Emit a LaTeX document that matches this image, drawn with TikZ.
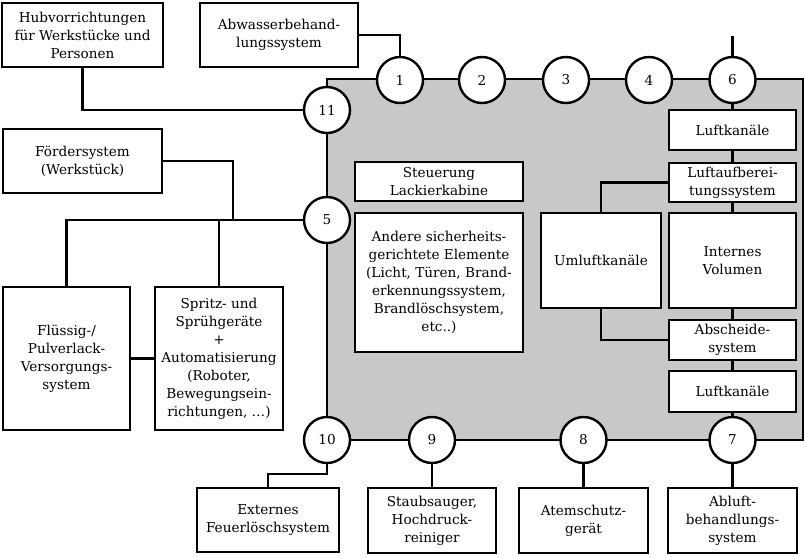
\documentclass[tikz,border=0pt]{standalone}
\usepackage{fontspec}
\setmainfont{DejaVu Serif}
\usetikzlibrary{calc}
\definecolor{cabgray}{RGB}{200,200,200}
\begin{document}
\begin{tikzpicture}[x=1pt,y=-1pt,
  lw/.style={line width=2.4pt},
  box/.style={draw,lw,fill=white,inner sep=0pt,align=center,font=\fontsize{13.6}{18}\selectfont},
  num/.style={draw,lw,fill=white,circle,minimum size=46pt,inner sep=0pt,font=\fontsize{13.6}{16}\selectfont},
  conn/.style={lw}]
\useasboundingbox (0,0) rectangle (805,557);
% cabin area
\node[draw,lw,fill=cabgray,minimum width=476pt,minimum height=361pt,inner sep=0pt] (cabin) at (565,259.5) {};
% circles
\node[num] (c1) at (400,80) {1};
\node[num] (c2) at (482,80) {2};
\node[num] (c3) at (566,80) {3};
\node[num] (c4) at (649,80) {4};
\node[num] (c6) at (732.5,80) {6};
\node[num] (c11) at (327,110) {11};
\node[num] (c5) at (327,220) {5};
\node[num] (c10) at (327,440) {10};
\node[num] (c9) at (432,440) {9};
\node[num] (c8) at (583.5,440) {8};
\node[num] (c7) at (732.5,440) {7};
\coordinate (top6) at (732.5,36);
% outer boxes
\node[box,minimum width=161pt,minimum height=64pt] (hub) at (82.5,35) {Hubvorrichtungen\\für Werkstücke und\\Personen};
\node[box,minimum width=158pt,minimum height=64pt] (abw) at (279,35) {Abwasserbehand-\\lungssystem};
\node[box,minimum width=159pt,minimum height=64pt] (foerd) at (82.5,161) {Fördersystem\\(Werkstück)};
\node[box,minimum width=127pt,minimum height=143pt] (fluess) at (66.5,358.5) {Flüssig-/\\Pulverlack-\\Versorgungs-\\system};
\node[box,minimum width=128pt,minimum height=143pt] (spritz) at (219,358.5) {Spritz- und\\Sprühgeräte\\+\\Automatisierung\\(Roboter,\\Bewegungsein-\\richtungen, …)};
\node[box,minimum width=142pt,minimum height=64pt] (ext) at (268,520) {Externes\\Feuerlöschsystem};
\node[box,minimum width=128pt,minimum height=65pt] (staub) at (432,520.5) {Staubsauger,\\Hochdruck-\\reiniger};
\node[box,minimum width=129pt,minimum height=65pt] (atem) at (583.5,520.5) {Atemschutz-\\gerät};
\node[box,minimum width=129pt,minimum height=65pt] (abluft) at (732.5,520.5) {Abluft-\\behandlungs-\\system};
% inner boxes
\node[box,minimum width=127pt,minimum height=40pt] (luft1) at (732.5,130) {Luftkanäle};
\node[box,minimum width=127pt,minimum height=39pt] (luftauf) at (732.5,182.5) {Luftaufberei-\\tungssystem};
\node[box,minimum width=127pt,minimum height=95pt] (intern) at (732.5,260.5) {Internes\\Volumen};
\node[box,minimum width=127pt,minimum height=40pt] (absch) at (732.5,340) {Abscheide-\\system};
\node[box,minimum width=127pt,minimum height=41pt] (luft2) at (732.5,391.5) {Luftkanäle};
\node[box,minimum width=120pt,minimum height=95pt] (umluft) at (601,260.5) {Umluftkanäle};
\node[box,minimum width=168pt,minimum height=39pt] (steuer) at (439,181.5) {Steuerung\\Lackierkabine};
\node[box,minimum width=168pt,minimum height=139pt] (andere) at (439,282.5) {Andere sicherheits-\\gerichtete Elemente\\(Licht, Türen, Brand-\\erkennungssystem,\\Brandlöschsystem,\\etc..)};
% connectors
\coordinate (j1) at (233,220);
\coordinate (j10) at ($(ext.north)+(0,-13)$);
\draw[conn] (hub.south) |- (c11.west);
\draw[conn] (abw.east) -| (c1.north);
\draw[conn] (foerd.east) -| (j1);
\draw[conn] (fluess.north) |- (c5.west);
\draw[conn] (spritz.north) -- (spritz.north |- c5.west);
\draw[conn] (fluess.east) -- (spritz.west);
\draw[conn] (c10.south) |- (j10) -- (ext.north);
\draw[conn] (c9.south) -- (staub.north);
\draw[conn] (c8.south) -- (atem.north);
\draw[conn] (c7.south) -- (abluft.north);
\draw[conn] (c6.north) -- (top6);
\draw[conn] (c6.south) -- (luft1.north);
\draw[conn] (luft1.south) -- (luftauf.north);
\draw[conn] (luftauf.south) -- (intern.north);
\draw[conn] (intern.south) -- (absch.north);
\draw[conn] (absch.south) -- (luft2.north);
\draw[conn] (luft2.south) -- (c7.north);
\draw[conn] (luftauf.west) -| (umluft.north);
\draw[conn] (umluft.south) |- (absch.west);
\end{tikzpicture}
\end{document}
